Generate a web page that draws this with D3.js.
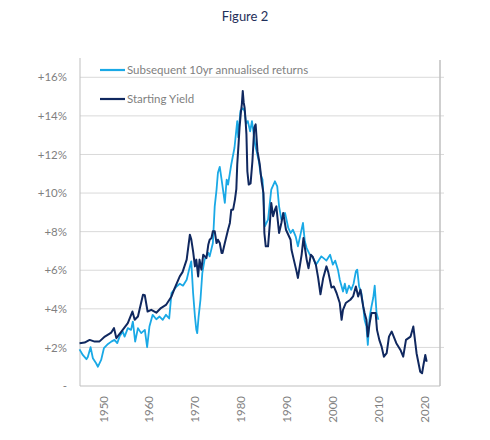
<!DOCTYPE html>
<html>
<head>
<meta charset="utf-8">
<script src="https://cdn.jsdelivr.net/npm/d3@7"></script>
<style>
  body { margin: 0; background: #fff; }
  text { font-family: Lato, "Open Sans", sans-serif; }
</style>
</head>
<body>
<div id="chart"></div>
<script>
// Starting Yield (decimal year, %)
var yieldYears = [1944.9, 1946.0, 1947.1, 1948.2, 1949.2, 1950.4, 1951.8, 1952.4, 1952.9, 1954.0,
    1955.4, 1956.4, 1956.9, 1957.6, 1958.7, 1959.1, 1959.7, 1960.5, 1961.6, 1962.6,
    1963.7, 1964.9, 1965.6, 1966.7, 1967.3, 1968.2, 1968.9, 1969.2, 1969.6, 1970.0,
    1970.3, 1970.7, 1971.0, 1971.4, 1971.8, 1972.5, 1972.9, 1973.2, 1973.6, 1973.9,
    1974.3, 1974.7, 1975.0, 1975.4, 1975.8, 1976.0, 1976.5, 1977.2, 1977.6, 1977.9,
    1978.3, 1978.7, 1979.0, 1979.2, 1979.5, 1979.7, 1980.0, 1980.2, 1980.4, 1980.6,
    1980.8, 1981.0, 1981.2, 1981.4, 1981.7, 1982.1, 1982.5, 1982.9, 1983.2, 1983.6,
    1984.1, 1984.5, 1984.9, 1985.1, 1985.4, 1985.9, 1986.3, 1986.6, 1987.0, 1987.4,
    1987.7, 1988.3, 1988.8, 1989.2, 1989.8, 1990.3, 1990.8, 1991.0, 1991.5, 1992.1,
    1992.4, 1993.2, 1993.6, 1994.3, 1994.7, 1995.2, 1995.6, 1996.3, 1996.8, 1997.3,
    1997.9, 1998.6, 1999.0, 1999.7, 2000.2, 2000.8, 2001.5, 2001.9, 2002.2, 2002.8,
    2003.8, 2004.4, 2005.0, 2005.5, 2006.0, 2006.6, 2006.9, 2007.3, 2007.6, 2008.0,
    2008.4, 2009.3, 2009.6, 2010.1, 2010.6, 2011.1, 2011.7, 2012.2, 2012.8, 2013.8,
    2014.7, 2015.3, 2015.9, 2016.9, 2017.5, 2018.2, 2019.0, 2019.4, 2019.7, 2020.1,
    2020.4];
var yieldValues = [2.22, 2.25, 2.39, 2.30, 2.30, 2.56, 2.77, 3.00, 2.48, 2.82,
    3.26, 3.86, 3.43, 3.60, 4.73, 4.70, 3.86, 3.95, 3.80, 4.04,
    4.20, 4.64, 5.07, 5.68, 5.90, 6.55, 7.84, 7.60, 6.98, 6.20,
    6.55, 5.68, 6.55, 6.03, 6.80, 6.63, 7.32, 7.58, 7.67, 8.02,
    8.02, 7.41, 7.58, 7.41, 6.89, 6.89, 7.41, 8.10, 8.45, 9.14,
    9.14, 9.66, 10.2, 11.48, 12.6, 13.39, 14.2, 14.6, 15.29, 14.7,
    14.43, 13.8, 13.04, 11.13, 10.44, 10.5, 11.65, 13.39, 13.56, 12.17,
    11.48, 10.61, 10.0, 7.93, 7.24, 7.24, 8.45, 9.49, 8.80, 9.14,
    9.31, 7.93, 8.45, 8.97, 8.10, 7.84, 7.58, 7.06, 6.55, 5.94,
    5.60, 6.80, 7.67, 6.55, 6.10, 6.80, 6.70, 6.29, 5.60, 4.75,
    5.60, 6.20, 5.90, 5.10, 5.16, 4.82, 4.30, 3.43, 3.95, 4.30,
    4.47, 4.64, 5.16, 4.64, 4.99, 4.12, 3.78, 3.43, 2.56, 3.26,
    3.78, 3.78, 2.91, 2.39, 2.04, 1.52, 1.70, 2.56, 2.82, 2.22,
    1.87, 1.52, 2.39, 2.56, 3.08, 1.70, 0.74, 0.66, 1.09, 1.61,
    1.26];

// Subsequent 10yr annualised returns (decimal year, %)
var returnYears = [1944.9, 1945.6, 1946.4, 1946.7, 1947.3, 1947.8, 1948.5, 1948.9, 1949.6, 1950.2,
    1951.1, 1951.8, 1952.5, 1953.1, 1953.6, 1954.3, 1954.7, 1955.4, 1956.1, 1956.5,
    1957.0, 1957.6, 1958.3, 1959.1, 1959.6, 1960.1, 1960.8, 1961.6, 1962.3, 1963.0,
    1963.7, 1964.4, 1964.9, 1966.0, 1966.7, 1967.4, 1968.2, 1968.9, 1969.2, 1969.6,
    1970.0, 1970.3, 1970.5, 1970.8, 1971.2, 1971.6, 1972.1, 1972.9, 1973.2, 1973.9,
    1974.3, 1974.7, 1975.0, 1975.4, 1975.8, 1976.1, 1976.5, 1976.9, 1977.2, 1977.9,
    1978.6, 1979.2, 1979.4, 1979.9, 1980.4, 1980.8, 1981.1, 1981.5, 1982.0, 1982.4,
    1983.1, 1983.9, 1984.3, 1984.7, 1985.2, 1985.9, 1986.6, 1987.4, 1987.9, 1988.3,
    1988.8, 1989.6, 1990.3, 1990.8, 1991.3, 1991.9, 1992.4, 1993.0, 1993.5, 1993.9,
    1994.3, 1995.0, 1995.6, 1996.3, 1996.8, 1997.5, 1998.1, 1998.6, 1999.4, 2000.0,
    2000.5, 2001.1, 2001.5, 2002.2, 2002.6, 2003.0, 2003.5, 2004.0, 2004.5, 2005.0,
    2005.3, 2005.7, 2006.2, 2006.6, 2006.9, 2007.3, 2007.6, 2008.0, 2008.4, 2008.8,
    2009.1, 2009.5, 2009.9];
var returnValues = [1.90, 1.61, 1.39, 1.50, 2.01, 1.44, 1.18, 1.00, 1.35, 1.96,
    2.18, 2.30, 2.39, 2.22, 2.56, 2.82, 2.56, 3.00, 2.91, 3.34,
    2.30, 3.00, 2.74, 2.91, 2.01, 3.08, 3.69, 3.46, 3.60, 3.43,
    3.69, 3.50, 4.82, 5.16, 5.30, 5.20, 5.51, 6.20, 6.46, 4.82,
    3.60, 2.91, 2.74, 3.60, 4.47, 5.85, 6.55, 6.90, 6.72, 7.41,
    9.31, 10.18, 11.05, 11.36, 10.70, 10.18, 9.49, 10.70, 10.44, 11.48,
    12.35, 13.73, 12.90, 14.26, 14.40, 14.26, 13.60, 13.73, 13.20, 13.73,
    12.50, 11.65, 10.96, 10.70, 8.27, 8.62, 10.18, 10.61, 10.35, 9.31,
    8.62, 8.97, 8.19, 7.93, 8.10, 7.76, 7.24, 7.90, 8.45, 7.50,
    7.15, 6.80, 6.70, 6.29, 6.46, 6.72, 6.60, 6.50, 6.80, 6.29,
    6.50, 6.03, 5.51, 4.90, 5.30, 4.82, 5.20, 4.99, 5.30, 5.94,
    6.03, 5.16, 4.82, 4.12, 3.43, 3.08, 2.13, 3.60, 4.12, 4.60,
    5.20, 3.78, 3.43];

var yTicks = [0, 2, 4, 6, 8, 10, 12, 14, 16];
var xTicks = [1950, 1960, 1970, 1980, 1990, 2000, 2010, 2020];
var seriesNames = ["Subsequent 10yr annualised returns", "Starting Yield"];
var seriesColors = ["#1aa9e6", "#10285f"];

var width = 490;
var height = 440;
var plotLeft = 80, plotRight = 440, plotTop = 58, plotBottom = 386;

var svg = d3.select("#chart")
    .append("svg")
    .attr("width", width)
    .attr("height", height);

var x = d3.scaleLinear()
    .domain([1945, 2023.3])
    .range([plotLeft, plotRight]);

var y = d3.scaleLinear()
    .domain([0, 17])
    .range([plotBottom, plotTop]);

// title
svg.append("text")
    .attr("x", 245)
    .attr("y", 21)
    .attr("text-anchor", "middle")
    .style("font-size", "13px")
    .style("fill", "#1f2f5a")
    .text("Figure 2");

// gridlines
svg.append("g")
    .selectAll("line")
    .data(yTicks.filter(function (d) { return d > 0; }))
    .enter()
    .append("line")
    .attr("x1", plotLeft)
    .attr("x2", plotRight + 4)
    .attr("y1", function (d) { return y(d); })
    .attr("y2", function (d) { return y(d); })
    .style("stroke", "#d9d9d9")
    .style("stroke-width", 1);

// frame lines
svg.append("line")
    .attr("x1", plotLeft).attr("x2", plotLeft)
    .attr("y1", plotTop).attr("y2", plotBottom)
    .style("stroke", "#bfbfbf");
svg.append("line")
    .attr("x1", plotRight).attr("x2", plotRight)
    .attr("y1", plotTop + 2).attr("y2", plotBottom)
    .style("stroke", "#bfbfbf")
    .style("stroke-width", 1.5);
svg.append("line")
    .attr("x1", plotLeft).attr("x2", plotRight)
    .attr("y1", plotBottom).attr("y2", plotBottom)
    .style("stroke", "#bfbfbf");

// y axis labels
var yAxis = d3.axisLeft(y)
    .tickValues(yTicks)
    .tickSize(0)
    .tickPadding(13)
    .tickFormat(function (d) { return d === 0 ? "-" : "+" + d + "%"; });

svg.append("g")
    .attr("transform", "translate(" + plotLeft + ",0)")
    .call(yAxis)
    .call(function (g) { g.select(".domain").remove(); })
    .selectAll("text")
    .style("font-family", "Lato, sans-serif")
    .style("font-size", "11.5px")
    .style("fill", "#7f7f7f");

// x axis labels
var xAxis = d3.axisBottom(x)
    .tickValues(xTicks)
    .tickSize(0)
    .tickFormat(d3.format("d"));

svg.append("g")
    .attr("transform", "translate(0," + plotBottom + ")")
    .call(xAxis)
    .call(function (g) { g.select(".domain").remove(); })
    .selectAll("text")
    .attr("transform", "rotate(-90)")
    .attr("x", -10)
    .attr("y", 0)
    .attr("dy", "0.35em")
    .style("text-anchor", "end")
    .style("font-family", "Lato, sans-serif")
    .style("font-size", "11.5px")
    .style("fill", "#7f7f7f");

var line = d3.line()
    .x(function (d) { return x(d[0]); })
    .y(function (d) { return y(d[1]); });

var returnsData = d3.zip(returnYears, returnValues);
var yieldData = d3.zip(yieldYears, yieldValues);

svg.append("path")
    .datum(returnsData)
    .attr("d", line)
    .style("fill", "none")
    .style("stroke", seriesColors[0])
    .style("stroke-width", 1.8)
    .style("stroke-linejoin", "round");

svg.append("path")
    .datum(yieldData)
    .attr("d", line)
    .style("fill", "none")
    .style("stroke", seriesColors[1])
    .style("stroke-width", 2)
    .style("stroke-linejoin", "round");

// legend
var legend = svg.selectAll(".legend")
    .data(seriesNames)
    .enter()
    .append("g")
    .attr("class", "legend")
    .attr("transform", function (d, i) {
        return "translate(100," + (70 + i * 29) + ")";
    });

legend.append("line")
    .attr("x1", 0)
    .attr("x2", 25)
    .style("stroke", function (d, i) { return seriesColors[i]; })
    .style("stroke-width", 2.2);

legend.append("text")
    .attr("x", 27)
    .attr("dy", "0.35em")
    .style("font-size", "11.5px")
    .style("fill", "#7f7f7f")
    .text(function (d) { return d; });
</script>
</body>
</html>
